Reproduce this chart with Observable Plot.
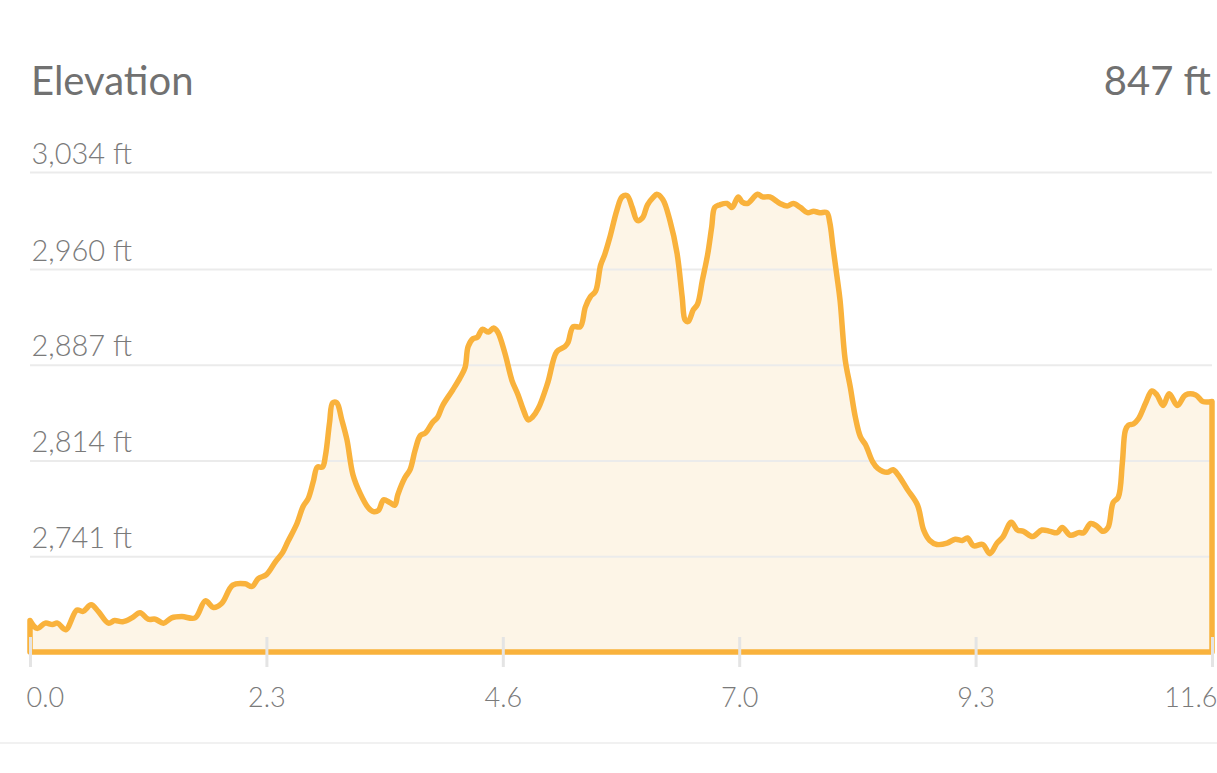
<!DOCTYPE html>
<html>
<head>
<meta charset="utf-8">
<script src="https://cdn.jsdelivr.net/npm/d3@7"></script>
<script src="https://cdn.jsdelivr.net/npm/@observablehq/plot@0.6"></script>
<style>
  html, body { margin: 0; padding: 0; background: #ffffff; }
  #wrap { position: relative; width: 1217px; height: 773px; overflow: hidden; font-family: Lato, "Open Sans", sans-serif; }
  .head { position: absolute; font-size: 40px; line-height: 40px; color: #717171; font-weight: 400; white-space: nowrap; }
  #title { left: 31px; top: 60px; }
  #total { right: 6px; top: 60px; }
  #chart { position: absolute; left: 0; top: 120px; }
  #sep { position: absolute; left: 0; top: 742px; width: 1217px; height: 2px; background: #f1f1f1; }
</style>
</head>
<body>
<div id="wrap">
  <div class="head" id="title">Elevation</div>
  <div class="head" id="total">847 ft</div>
  <div id="chart"></div>
  <div id="sep"></div>
</div>
<script>
// distance in miles
const miles = [0.00,0.07,0.15,0.22,0.27,0.35,0.46,0.52,0.60,0.67,0.77,0.83,0.91,1.00,1.08,1.16,1.23,1.31,1.39,1.49,
  1.62,1.72,1.80,1.88,1.99,2.11,2.18,2.24,2.32,2.41,2.48,2.53,2.62,2.68,2.73,2.78,2.82,2.87,2.90,2.94,
  2.97,3.01,3.06,3.11,3.17,3.24,3.32,3.37,3.42,3.47,3.53,3.58,3.61,3.68,3.73,3.78,3.83,3.88,3.95,4.00,
  4.05,4.15,4.22,4.27,4.30,4.35,4.39,4.44,4.50,4.55,4.59,4.66,4.73,4.79,4.84,4.89,4.93,4.99,5.08,5.17,
  5.25,5.28,5.33,5.40,5.45,5.50,5.55,5.60,5.64,5.69,5.76,5.81,5.86,5.91,5.96,6.01,6.06,6.12,6.15,6.21,
  6.28,6.35,6.40,6.43,6.46,6.51,6.55,6.60,6.65,6.69,6.72,6.77,6.84,6.89,6.95,6.99,7.04,7.14,7.19,7.26,
  7.36,7.43,7.49,7.56,7.63,7.69,7.75,7.82,7.85,7.88,7.92,7.95,8.00,8.05,8.10,8.15,8.20,8.27,8.32,8.41,
  8.47,8.52,8.61,8.71,8.77,8.83,8.90,9.00,9.08,9.15,9.20,9.26,9.35,9.42,9.49,9.55,9.63,9.69,9.75,9.84,
  9.93,10.01,10.08,10.13,10.21,10.29,10.34,10.41,10.47,10.53,10.58,10.63,10.68,10.72,10.75,10.78,10.83,10.88,10.95,11.01,
  11.06,11.12,11.18,11.26,11.34,11.44,11.51,11.60];
// elevation in feet
const elevation = [2692,2686,2690,2689,2690,2685,2700,2699,2704,2699,2690,2692,2691,2694,2698,2693,2693,2690,2694,2695,
  2694,2707,2702,2705,2719,2720,2718,2724,2727,2737,2744,2752,2766,2779,2785,2798,2809,2809,2818,2843,
  2858,2858,2845,2830,2803,2789,2778,2775,2776,2784,2782,2780,2788,2801,2807,2822,2833,2835,2843,2847,
  2856,2868,2877,2885,2901,2907,2908,2914,2912,2915,2912,2896,2875,2864,2853,2845,2847,2854,2873,2897,
  2901,2904,2916,2916,2931,2939,2943,2963,2971,2984,3005,3015,3016,3007,2997,2999,3009,3015,3017,3013,
  2997,2972,2939,2921,2920,2929,2933,2952,2971,2992,3007,3009,3010,3007,3015,3011,3010,3017,3015,3015,
  3010,3008,3010,3007,3003,3004,3003,3003,2995,2977,2954,2936,2891,2870,2847,2832,2826,2813,2808,2805,
  2807,2803,2792,2780,2761,2753,2750,2751,2754,2753,2755,2749,2750,2743,2751,2756,2767,2761,2760,2756,
  2761,2760,2759,2763,2757,2759,2759,2766,2764,2760,2763,2782,2786,2812,2837,2841,2842,2846,2858,2867,
  2864,2856,2865,2856,2864,2864,2859,2859];

const xTickValues = [0, 2.32, 4.64, 6.96, 9.28, 11.6];
const xTickLabels = ["0.0", "2.3", "4.6", "7.0", "9.3", "11.6"];
const yTickValues = [2741, 2814, 2887, 2960, 3034];
const yTickLabels = ["2,741 ft", "2,814 ft", "2,887 ft", "2,960 ft", "3,034 ft"];
const xDomain = [0, 11.6];
const yDomain = [2668, 3034];

const data = miles.map((m, i) => ({mi: m, elev: elevation[i]}));
const orange = "#f9b23c";
const labelColor = "#7a7a7a";
const lastIdx = xTickValues.length - 1;

const chart = Plot.plot({
  width: 1217,
  height: 653,
  marginTop: 52,
  marginBottom: 121,
  marginLeft: 30,
  marginRight: 5,
  style: {fontFamily: "Lato, 'Open Sans', sans-serif", background: "transparent", overflow: "visible"},
  x: {domain: xDomain, axis: null},
  y: {domain: yDomain, axis: null},
  marks: [
    Plot.areaY(data, {x: "mi", y1: yDomain[0], y2: "elev", fill: "#fdf5e7", curve: "catmull-rom"}),
    Plot.ruleY(yTickValues, {stroke: "#ebebeb", strokeWidth: 2}),
    Plot.text(yTickValues, {y: d => d, frameAnchor: "left", text: (d, i) => yTickLabels[i],
      textAnchor: "start", lineAnchor: "bottom", dx: 1, dy: -9, fontSize: 29, fill: labelColor, fontWeight: 300}),
    Plot.areaY(data, {x: "mi", y1: yDomain[0], y2: "elev", fill: "none", stroke: orange, curve: "catmull-rom",
      strokeWidth: 5.5, strokeLinejoin: "round", strokeLinecap: "round"}),
    Plot.ruleX(xTickValues, {x: d => d, y1: yDomain[0], y2: yDomain[0], insetTop: -15, insetBottom: -15,
      stroke: "#e4e4e4", strokeWidth: 3}),
    Plot.text([xTickValues[0]], {x: d => d, frameAnchor: "bottom", text: () => xTickLabels[0],
      textAnchor: "start", lineAnchor: "middle", dx: -4, dy: 46, fontSize: 27, fill: labelColor, fontWeight: 300}),
    Plot.text(xTickValues.slice(1, lastIdx), {x: d => d, frameAnchor: "bottom", text: (d, i) => xTickLabels[i + 1],
      textAnchor: "middle", lineAnchor: "middle", dy: 46, fontSize: 27, fill: labelColor, fontWeight: 300}),
    Plot.text([xTickValues[lastIdx]], {x: d => d, frameAnchor: "bottom", text: () => xTickLabels[lastIdx],
      textAnchor: "end", lineAnchor: "middle", dx: 5, dy: 46, fontSize: 27, fill: labelColor, fontWeight: 300})
  ]
});
document.getElementById("chart").appendChild(chart);
</script>
</body>
</html>
